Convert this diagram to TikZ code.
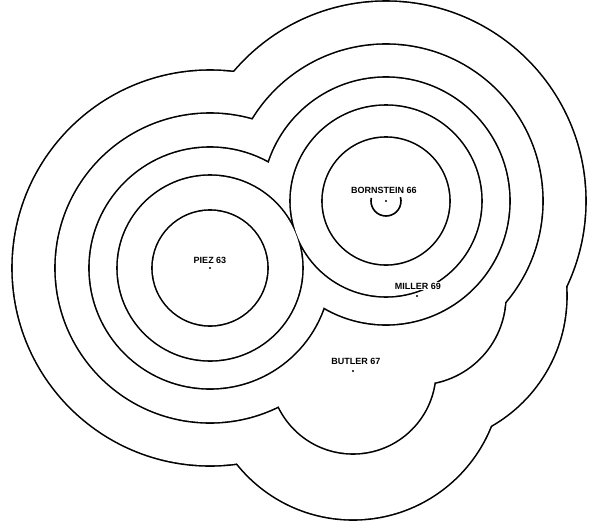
\documentclass[tikz,border=0pt]{standalone}
\usepackage{fontspec}
\setsansfont{Liberation Sans}
\begin{document}
\begin{tikzpicture}[x=1pt,y=-1pt,
 lab/.style={font=\sffamily\bfseries\fontsize{9}{9}\selectfont,fill=white,inner sep=1pt},
 spot/.style={circle,fill=black,inner sep=0pt,minimum size=2.4pt}]
\useasboundingbox (0,0) rectangle (595,523);
\coordinate (piez) at (210,268);
\coordinate (born) at (386,201);
\coordinate (mill) at (417,296);
\coordinate (butl) at (353,371);
% contour levels, outermost first
\foreach \lev in {{piez/198,born/200,mill/150,butl/149},
                  {piez/155,born/157,mill/89,butl/83},
                  {piez/121,born/124},
                  {piez/93,born/96},
                  {piez/58,born/64}}{
  \foreach \ctr/\rad in \lev {\fill (\ctr) circle ({\rad pt+0.8pt});}
  \foreach \ctr/\rad in \lev {\fill[white] (\ctr) circle ({\rad pt-0.8pt});}
}
\draw[line width=1.6pt] (born) ++(168:15pt) arc[start angle=168,end angle=375,radius=15pt];
\foreach \ctr in {piez,born,mill,butl}{\node[spot] (\ctr-dot) at (\ctr) {};}
\node[lab] (piez-lab) at (210,260) {PIEZ 63};
\node[lab] (born-lab) at (384,190) {BORNSTEIN 66};
\node[lab] (mill-lab) at (418,286) {MILLER 69};
\node[lab] (butl-lab) at (356,361) {BUTLER 67};
\end{tikzpicture}
\end{document}
